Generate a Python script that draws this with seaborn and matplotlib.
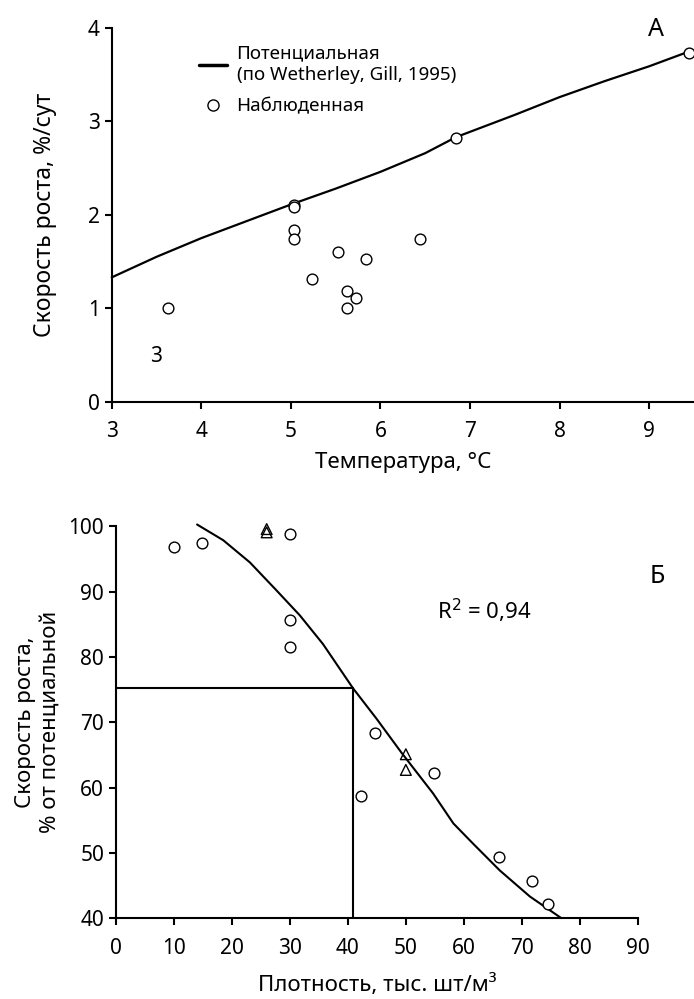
import numpy as np
import pandas as pd
import matplotlib
matplotlib.use('Agg')
import matplotlib.pyplot as plt
from matplotlib.lines import Line2D
import seaborn as sns

# panel A: growth rate vs temperature
temp_obs = [3.63, 5.03, 5.03, 5.03, 5.03, 5.24, 5.53, 5.84, 5.63, 5.73, 5.63, 6.44, 6.84, 9.44]
rate_obs = [1.00, 2.11, 2.08, 1.84, 1.74, 1.31, 1.60, 1.53, 1.18, 1.11, 1.00, 1.74, 2.82, 3.73]
temp_pot = [3.0, 3.5, 4.0, 4.5, 5.0, 5.5, 6.0, 6.5, 6.84, 7.5, 8.0, 8.5, 9.0, 9.45]
rate_pot = [1.33, 1.55, 1.75, 1.93, 2.11, 2.28, 2.46, 2.66, 2.83, 3.07, 3.26, 3.43, 3.59, 3.75]

# panel B: relative growth vs density
dens_circ = [10.0, 14.9, 30.0, 30.0, 30.0, 44.7, 42.3, 54.9, 66.0, 71.8, 74.5]
rel_circ = [96.9, 97.5, 98.9, 85.7, 81.5, 68.4, 58.7, 62.2, 49.4, 45.7, 42.2]
dens_tri = [26.0, 26.0, 50.0, 50.0]
rel_tri = [99.6, 99.1, 65.1, 62.7]
dens_fit = [14.0, 18.5, 23.1, 27.7, 31.7, 35.7, 40.9, 44.9, 49.2, 54.7, 58.2, 61.6, 66.2, 71.4, 76.8]
rel_fit = [100.3, 97.9, 94.5, 90.2, 86.4, 82.0, 75.2, 70.6, 65.4, 59.1, 54.5, 51.4, 47.3, 43.3, 40.0]
dens_ref = 40.9
rel_ref = 75.2

sns.set_style('ticks')
plt.rcParams['font.family'] = ['Noto Sans', 'DejaVu Sans']
plt.rcParams['font.size'] = 15
plt.rcParams['text.color'] = 'black'
plt.rcParams['axes.labelcolor'] = 'black'
plt.rcParams['xtick.color'] = 'black'
plt.rcParams['ytick.color'] = 'black'
plt.rcParams['axes.edgecolor'] = 'black'
plt.rcParams['axes.linewidth'] = 1.5
plt.rcParams['xtick.major.width'] = 1.5
plt.rcParams['ytick.major.width'] = 1.5
plt.rcParams['xtick.major.size'] = 5
plt.rcParams['ytick.major.size'] = 5
plt.rcParams['xtick.major.pad'] = 9
plt.rcParams['xtick.labelsize'] = 15
plt.rcParams['ytick.labelsize'] = 15

fig = plt.figure(figsize=(6.94, 9.99), dpi=100)
ax1 = fig.add_axes([0.161, 0.598, 0.839, 0.374])
ax2 = fig.add_axes([0.167, 0.081, 0.752, 0.392])

# --- A ---
sns.lineplot(x=temp_pot, y=rate_pot, ax=ax1, color='black', lw=1.6, clip_on=False)
sns.scatterplot(x=temp_obs, y=rate_obs, ax=ax1, marker='o', s=60,
                facecolor='white', edgecolor='black', linewidth=1, zorder=3, clip_on=False)
ax1.set_xlim(3, 9.5)
ax1.set_ylim(0, 4)
ax1.set_xticks(range(3, 10))
ax1.set_yticks(range(0, 5))
ax1.set_xlabel('Температура, °С', labelpad=7, fontsize=16)
ax1.set_ylabel('Скорость роста, %/сут', labelpad=22, fontsize=16.5)
ax1.text(3.5, 0.48, '3', ha='center', va='center', fontsize=15)
ax1.text(9.08, 3.98, 'А', ha='center', va='center', fontsize=18)
handles = [Line2D([], [], color='black', lw=2.5),
           Line2D([], [], marker='o', ls='none', ms=8, mfc='white', mec='black')]
ax1.legend(handles, ['Потенциальная\n(по Wetherley, Gill, 1995)', 'Наблюденная'],
           loc='upper left', bbox_to_anchor=(0.137, 0.975), frameon=False,
           fontsize=13.5, handlelength=1.5, handletextpad=0.5,
           labelspacing=0.75, borderaxespad=0)
sns.despine(ax=ax1)

# --- Б ---
sns.lineplot(x=dens_fit, y=rel_fit, ax=ax2, color='black', lw=1.5, clip_on=False)
ax2.plot([0, dens_ref], [rel_ref, rel_ref], color='black', lw=1.5)
ax2.plot([dens_ref, dens_ref], [40, rel_ref], color='black', lw=1.5)
sns.scatterplot(x=dens_circ, y=rel_circ, ax=ax2, marker='o', s=60,
                facecolor='white', edgecolor='black', linewidth=1, zorder=3, clip_on=False)
sns.scatterplot(x=dens_tri, y=rel_tri, ax=ax2, marker='^', s=60,
                facecolor='none', edgecolor='black', linewidth=1, zorder=3, clip_on=False)
ax2.set_xlim(0, 90)
ax2.set_ylim(40, 100)
ax2.set_xticks(range(0, 91, 10))
ax2.set_yticks(range(40, 101, 10))
ax2.set_xlabel('Плотность, тыс. шт/м³', labelpad=11, fontsize=16)
ax2.set_ylabel('Скорость роста,\n% от потенциальной', labelpad=6, fontsize=16)
ax2.text(55.3, 87.1, 'R$^2$ = 0,94', ha='left', va='center', fontsize=16)
ax2.text(93.3, 92.3, 'Б', ha='center', va='center', fontsize=18, clip_on=False)
sns.despine(ax=ax2)

fig.savefig('out.png', dpi=100)
